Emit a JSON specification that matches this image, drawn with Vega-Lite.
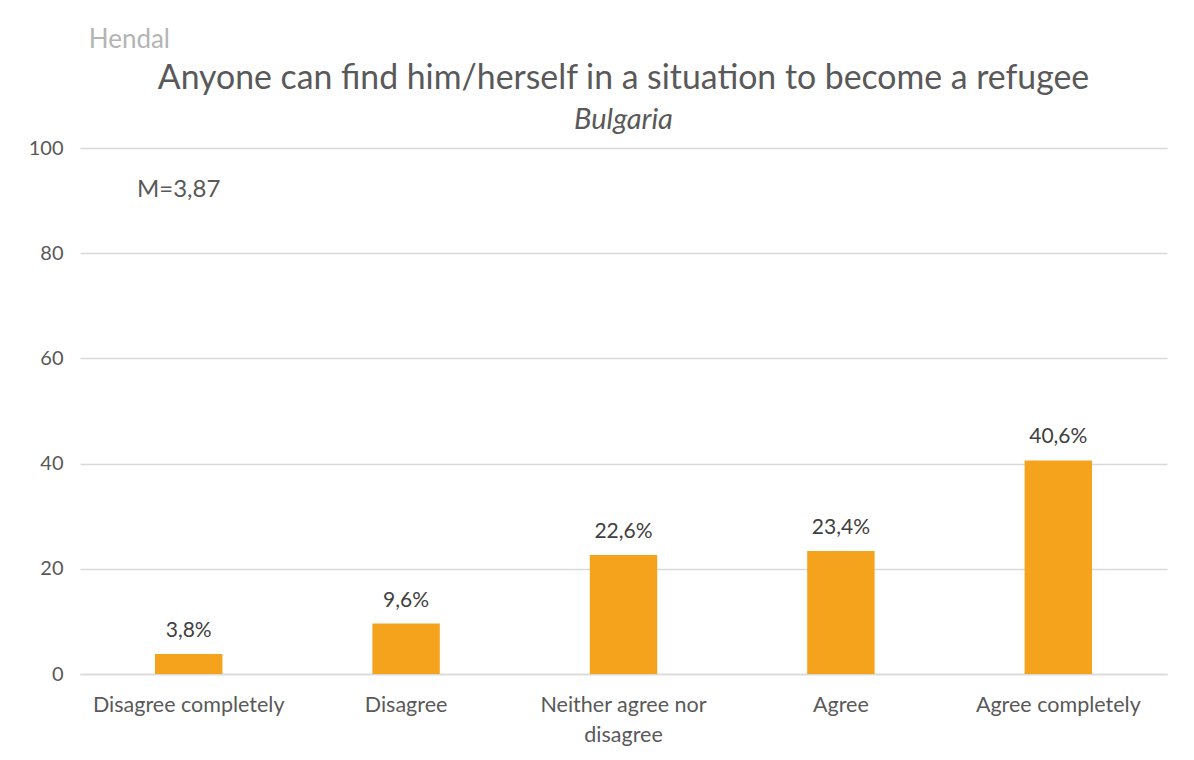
{
  "$schema": "https://vega.github.io/schema/vega-lite/v6.json",
  "width": 1087,
  "height": 526,
  "autosize": {"type": "none"},
  "padding": {"left": 80, "top": 148, "right": 27, "bottom": 86},
  "background": "white",
  "config": {
    "font": "Lato",
    "view": {"stroke": null}
  },
  "title": {
    "text": "Anyone can find him/herself in a situation to become a refugee",
    "subtitle": "Bulgaria",
    "anchor": "middle",
    "fontSize": 33.8,
    "fontWeight": "normal",
    "color": "#595959",
    "subtitleFontSize": 29,
    "subtitleFontStyle": "italic",
    "subtitleColor": "#595959",
    "subtitlePadding": 10,
    "offset": -108
  },
  "data": {
    "values": [
      {"category": "Disagree completely", "value": 3.8, "label": "3,8%"},
      {"category": "Disagree", "value": 9.6, "label": "9,6%"},
      {"category": "Neither agree nor disagree", "value": 22.6, "label": "22,6%"},
      {"category": "Agree", "value": 23.4, "label": "23,4%"},
      {"category": "Agree completely", "value": 40.6, "label": "40,6%"}
    ]
  },
  "encoding": {
    "x": {
      "field": "category",
      "type": "nominal",
      "sort": null,
      "scale": {"paddingInner": 0.69, "paddingOuter": 0.345},
      "axis": {
        "title": null,
        "labelAngle": 0,
        "labelFontSize": 21.5,
        "labelColor": "#595959",
        "labelPadding": 20,
        "labelLimit": 0,
        "ticks": false,
        "domain": true,
        "domainColor": "#D9D9D9",
        "domainWidth": 1.5,
        "labelLineHeight": 30,
        "labelExpr": "datum.value == 'Neither agree nor disagree' ? ['Neither agree nor', 'disagree'] : datum.value"
      }
    }
  },
  "layer": [
    {
      "mark": {"type": "bar", "color": "#F5A31C"},
      "encoding": {
        "y": {
          "field": "value",
          "type": "quantitative",
          "scale": {"domain": [0, 100], "nice": false},
          "axis": {
            "title": null,
            "values": [0, 20, 40, 60, 80, 100],
            "labelFontSize": 20,
            "labelColor": "#595959",
            "labelPadding": 17,
            "ticks": false,
            "domain": false,
            "gridColor": "#D9D9D9",
            "gridWidth": 1.5
          }
        }
      }
    },
    {
      "mark": {"type": "text", "fontSize": 21, "color": "#404040", "dy": -23, "baseline": "middle"},
      "encoding": {
        "y": {"field": "value", "type": "quantitative"},
        "text": {"field": "label"}
      }
    },
    {
      "data": {"values": [{"category": "Disagree completely", "y": 92, "note": "M=3,87"}]},
      "mark": {"type": "text", "fontSize": 24, "color": "#595959", "align": "center", "baseline": "middle", "dx": -10},
      "encoding": {
        "x": {"field": "category", "type": "nominal"},
        "y": {"field": "y", "type": "quantitative"},
        "text": {"field": "note"}
      }
    },
    {
      "data": {"values": [{"category": "Disagree completely", "y": 120.5, "note": "Hendal"}]},
      "mark": {"type": "text", "fontSize": 26, "color": "#B4B4B4", "align": "left", "baseline": "middle", "dx": -100},
      "encoding": {
        "x": {"field": "category", "type": "nominal"},
        "y": {"field": "y", "type": "quantitative"},
        "text": {"field": "note"}
      }
    }
  ]
}
